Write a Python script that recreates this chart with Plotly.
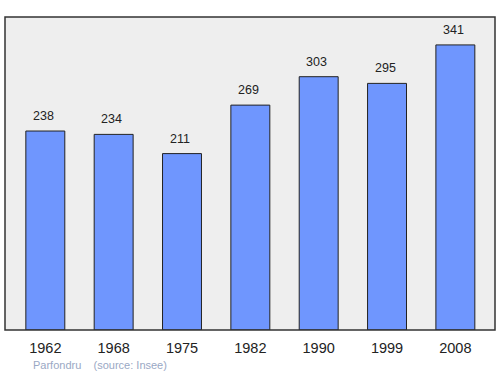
import plotly.graph_objects as go

years = ["1962", "1968", "1975", "1982", "1990", "1999", "2008"]
population = [238, 234, 211, 269, 303, 295, 341]
commune = "Parfondru"
source = "(source: Insee)"

fig = go.Figure()
fig.add_trace(go.Bar(
    x=list(range(len(years))), y=population,
    width=0.57,
    marker=dict(color="#6f96fe", line=dict(color="#222222", width=1)),
    hoverinfo="skip",
))

for i, v in enumerate(population):
    fig.add_annotation(x=i, y=v, text=str(v), showarrow=False,
                       xshift=-2, yshift=15, yanchor="middle",
                       font=dict(family="Liberation Sans, Arial", size=12.5, color="#222222"))

fig.add_shape(type="rect", xref="paper", yref="paper", x0=0, y0=0, x1=1, y1=1,
              line=dict(color="#333333", width=1.5), layer="above")

fig.add_annotation(xref="paper", yref="paper", x=(31-5)/490, y=-(365-330)/313,
                   xanchor="left", yanchor="middle", showarrow=False,
                   text=commune + "&nbsp;&nbsp;&nbsp;&nbsp;" + source,
                   font=dict(family="Liberation Sans, Arial", size=11, color="#9aa8c4"))

fig.update_layout(
    width=500, height=374,
    margin=dict(l=5, r=5, t=17, b=44),
    paper_bgcolor="white", plot_bgcolor="#eeeeee",
    showlegend=False,
    xaxis=dict(tickmode="array", tickvals=list(range(len(years))), ticktext=years,
               range=[-0.59, 6.58], showgrid=False, zeroline=False, ticks="",
               ticklabelstandoff=7,
               tickfont=dict(family="Liberation Sans, Arial", size=14.5, color="#222222")),
    yaxis=dict(range=[0, 374.4], showgrid=False, zeroline=False, showticklabels=False, ticks=""),
)

fig.write_html("out.html")
